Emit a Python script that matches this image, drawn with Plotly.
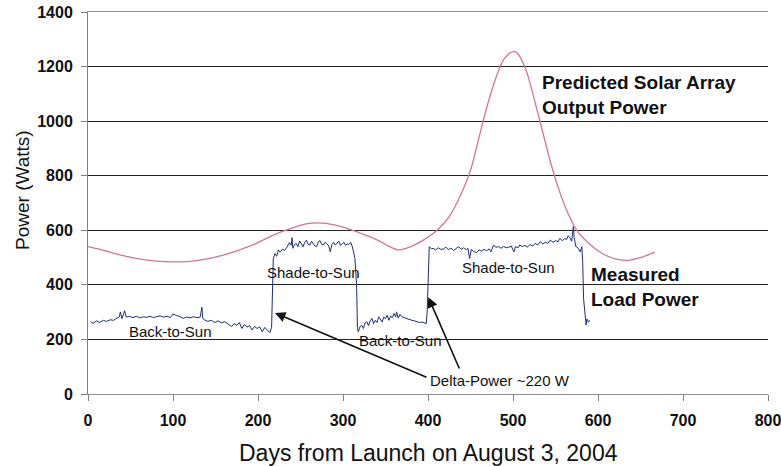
import plotly.graph_objects as go

# ---------------------------------------------------------------------------
# Data
# ---------------------------------------------------------------------------

PRED_DAYS = [0, 20, 40, 60, 80, 100, 120, 140, 160, 180, 200, 220, 240, 260, 270,
             280, 300, 320, 340, 355, 365, 370, 380, 395, 410, 425, 440, 450, 460,
             470, 480, 490, 500, 505, 515, 525, 535, 545, 555, 565, 575, 590, 605,
             620, 635, 650, 667]
PRED_WATTS = [540, 525, 508, 495, 487, 484, 486, 495, 510, 530, 555, 585, 608, 625, 627,
              625, 612, 590, 565, 540, 528, 530, 540, 565, 598, 650, 740, 820, 940,
              1060, 1160, 1230, 1255, 1250, 1190, 1080, 960, 840, 740, 660, 600, 550, 515,
              495, 490, 500, 520]

LOAD_DAYS = [3, 6, 10, 14, 18, 22, 26, 30, 34, 37, 38, 40, 43, 45, 49, 53, 57, 61, 65,
             69, 73, 77, 81, 85, 89, 93, 97, 100, 104, 108, 112, 116, 120, 124, 128,
             132, 134, 135, 137, 141, 145, 149, 153, 157, 161, 165, 169, 172, 175, 178,
             181, 184, 187, 190, 193, 196, 199, 202, 205, 208, 211, 214, 216,
             218, 220, 222, 224, 226, 229, 231, 234, 237, 239, 240, 241, 243, 245, 247,
             249, 251, 253, 255, 257, 259, 261, 263, 265, 267, 269, 271, 273, 275, 277,
             279, 281, 283, 285, 287, 289, 291, 293, 295, 297, 299, 301, 303, 305, 307,
             309, 311, 312, 314, 316, 317, 318,
             320, 322, 324, 326, 328, 330, 332, 334, 336, 338, 340, 342, 344, 346, 348,
             350, 352, 354, 356, 358, 360, 362, 363, 365, 367, 369, 372, 375, 378, 381,
             384, 387, 390, 393, 396, 398, 399, 400, 401.5,
             404, 406, 409, 412, 415, 418, 421, 424, 427, 430, 433, 436, 439, 442, 445,
             447, 449, 451, 454, 457, 460, 463, 466, 469, 472, 474, 477, 480, 483, 486,
             489, 492, 495, 498, 501, 503, 506, 508, 511, 514, 517, 520, 523, 526, 529,
             532, 535, 538, 541, 544, 547, 550, 553, 555, 558, 561, 563, 565, 567, 569,
             571, 572, 574, 575, 577, 579, 581, 582, 583, 585, 586, 587, 589, 590]
LOAD_WATTS = [265, 259, 268, 262, 270, 266, 272, 270, 278, 283, 301, 276, 305, 282, 284,
              280, 285, 279, 283, 281, 285, 280, 284, 286, 282, 285, 280, 293, 288, 284,
              277, 282, 279, 283, 280, 282, 318, 277, 272, 266, 270, 262, 268, 261, 265,
              257, 247, 258, 252, 262, 240, 255, 245, 251, 235, 248, 240, 246, 228, 244,
              236, 225, 245,
              497, 515, 505, 528, 520, 532, 525, 538, 555, 545, 573, 534, 548, 552, 540,
              561, 548, 540, 556, 564, 548, 546, 560, 553, 542, 540, 558, 562, 548, 546,
              556, 550, 545, 521, 548, 556, 546, 553, 560, 545, 552, 556, 545, 550, 548,
              556, 540, 528, 497, 399, 240, 228,
              247, 252, 240, 260, 265, 250, 268, 277, 258, 270, 262, 283, 272, 264, 282,
              276, 289, 270, 286, 280, 295, 282, 301, 278, 292, 284, 280, 276, 274, 270,
              268, 265, 262, 264, 259, 258, 300, 436, 540,
              532, 534, 528, 536, 530, 531, 538, 529, 535, 526, 533, 540, 530, 536, 529,
              534, 497, 530, 522, 518, 528, 524, 530, 525, 532, 521, 545, 538, 540, 534,
              541, 536, 538, 542, 521, 540, 536, 546, 540, 545, 538, 548, 542, 552, 546,
              558, 550, 556, 552, 564, 556, 562, 558, 570, 562, 570, 566, 580, 572, 560,
              613, 572, 540, 540, 532, 521, 540, 485, 350, 265, 253, 275, 263, 270]

X_TICKS = [0, 100, 200, 300, 400, 500, 600, 700, 800]
Y_TICKS = [0, 200, 400, 600, 800, 1000, 1200, 1400]

PINK = "#d4739d"
NAVY = "#1f2d7a"
FONT = "Liberation Sans, Arial, sans-serif"

fig = go.Figure()

fig.add_trace(go.Scatter(
    x=PRED_DAYS, y=PRED_WATTS, mode="lines", line=dict(color=PINK, width=1.3, shape="spline"),
    name="Predicted Solar Array Output Power", hoverinfo="skip",
))
fig.add_trace(go.Scatter(
    x=LOAD_DAYS, y=LOAD_WATTS, mode="lines", line=dict(color=NAVY, width=1),
    name="Measured Load Power", hoverinfo="skip",
))

# ---------------------------------------------------------------------------
# Text labels and arrows
# ---------------------------------------------------------------------------

labels = [
    dict(x=532, y=1096, text="Predicted Solar Array<br>Output Power", xanchor="left",
         align="left", font=dict(size=19, family=FONT, color="#111")),
    dict(x=589, y=392, text="Measured<br>Load Power", xanchor="left",
         align="left", font=dict(size=19, family=FONT, color="#111")),
    dict(x=265, y=447, text="Shade-to-Sun"),
    dict(x=97, y=228, text="Back-to-Sun"),
    dict(x=368, y=195, text="Back-to-Sun"),
    dict(x=495, y=462, text="Shade-to-Sun"),
    dict(x=485, y=51, text="Delta-Power ~220 W"),
]
for lab in labels:
    bold = "font" in lab
    txt = lab.pop("text")
    font = lab.pop("font", dict(size=15, family=FONT, color="#111"))
    if bold:
        txt = "<b>" + txt.replace("<br>", "</b><br><b>") + "</b>"
    fig.add_annotation(text=txt, showarrow=False, font=font, yanchor="middle",
                       **{"xanchor": "center", **lab})

arrows = [
    dict(x=220, y=297, ax=400, ay=59),
    dict(x=400.4, y=355, ax=437.6, ay=88),
]
for a in arrows:
    fig.add_annotation(x=a["x"], y=a["y"], ax=a["ax"], ay=a["ay"], xref="x", yref="y",
                       axref="x", ayref="y", text="", showarrow=True, arrowhead=2,
                       arrowsize=1.3, arrowwidth=1.6, arrowcolor="#111")

# axis titles
fig.add_annotation(text="Power (Watts)", xref="paper", yref="paper", x=0, y=0.5,
                   xshift=-66, yshift=13, xanchor="center", yanchor="middle", textangle=-90,
                   showarrow=False, font=dict(size=19, family=FONT, color="#111"))
fig.add_annotation(text="Days from Launch on August 3, 2004", xref="paper", yref="paper",
                   x=0.5, y=0, yshift=-59, showarrow=False, yanchor="middle",
                   font=dict(size=23, family=FONT, color="#111"))

fig.update_layout(
    width=781, height=466,
    margin=dict(l=88, r=13, t=12, b=72, autoexpand=False),
    paper_bgcolor="white", plot_bgcolor="white",
    showlegend=False,
    font=dict(family=FONT, color="#111"),
)
# mirror=True gives the light grey line along the top edge
fig.update_xaxes(
    range=[0, 800], tickvals=X_TICKS, ticktext=[f"<b>{v}</b>" for v in X_TICKS],
    showgrid=False, zeroline=False, showline=True, mirror=True,
    linecolor="#909090", linewidth=1,
    ticks="outside", ticklen=6, tickcolor="#808080", ticklabelstandoff=6,
    ticklabeloverflow="allow",
    tickfont=dict(size=16, family=FONT, color="#111"), automargin=False,
)
fig.update_yaxes(
    range=[0, 1400], tickvals=Y_TICKS, ticktext=[f"<b>{v}</b>" for v in Y_TICKS],
    showgrid=True, gridcolor="#222", gridwidth=1, zeroline=False,
    showline=True, linecolor="#808080", linewidth=1,
    ticks="outside", ticklen=6, tickcolor="#808080", ticklabelstandoff=5,
    ticklabeloverflow="allow",
    tickfont=dict(size=16, family=FONT, color="#111"), automargin=False,
)

# drop the browser's default 8px body margin so the figure fills the window
fig.write_html("out.html", config={"displayModeBar": False},
               post_script="document.body.style.margin = '0';")
